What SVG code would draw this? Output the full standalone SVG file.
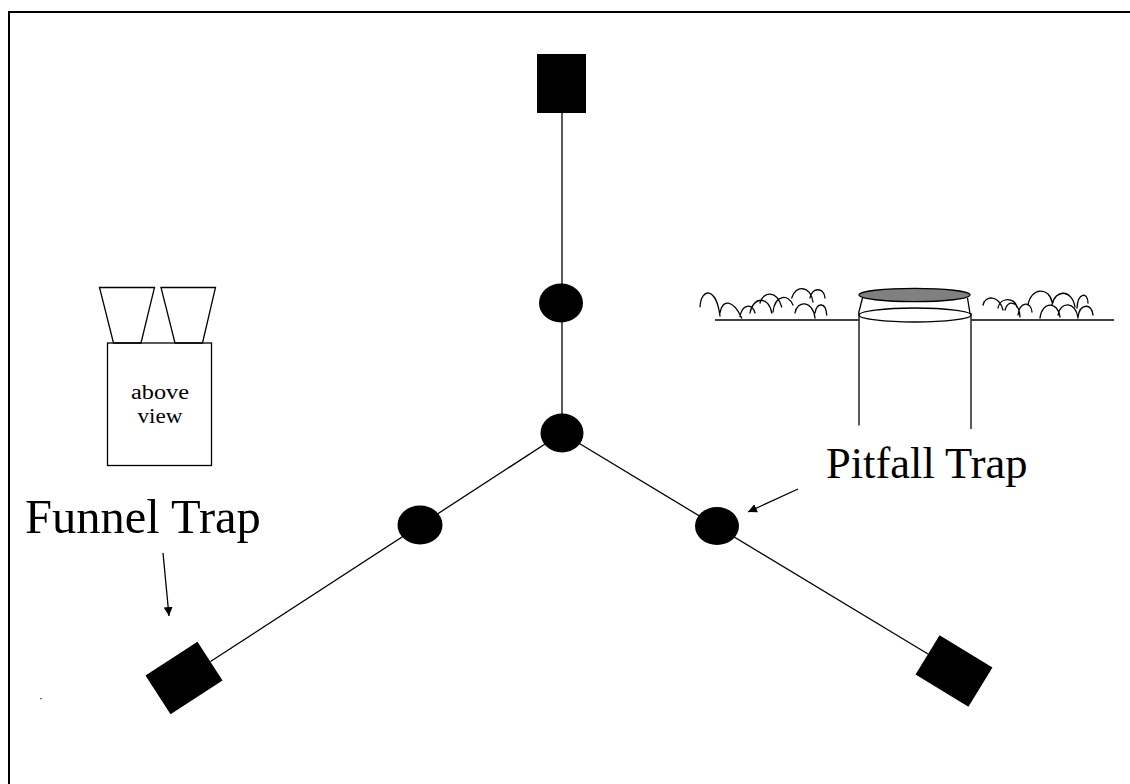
<svg xmlns="http://www.w3.org/2000/svg" width="1130" height="784" viewBox="0 0 1130 784">
  <defs>
    <style>
      .frame { fill: none; stroke: #000; stroke-width: 2; }
      .link { stroke: #000; stroke-width: 1.3; fill: none; }
      .trap { fill: #000; }
      .thin { fill: none; stroke: #000; stroke-width: 1.3; }
      .grass { fill: none; stroke: #000; stroke-width: 1.3; stroke-linecap: round; }
      .label { font-family: "Liberation Serif", "Times New Roman", serif; fill: #000; }
    </style>
    <marker id="arrowhead" viewBox="0 0 10 10" refX="10" refY="5" markerWidth="9" markerHeight="9" markerUnits="userSpaceOnUse" orient="auto">
      <path d="M0,0 L10,5 L0,10 Z" fill="#000"/>
    </marker>
  </defs>

  <rect width="1130" height="784" fill="#fff"/>
  <rect class="frame" x="9" y="12" width="1140" height="800"/>

  <!-- transect lines from the central hub -->
  <g id="connectors">
    <line class="link" x1="562" y1="113" x2="562" y2="433"/>
    <line class="link" x1="562" y1="433" x2="210.5" y2="661.5"/>
    <line class="link" x1="562" y1="433" x2="928" y2="654"/>
    <line class="link" x1="163" y1="553" x2="169" y2="616" marker-end="url(#arrowhead)"/>
    <line class="link" x1="798" y1="489" x2="748" y2="512" marker-end="url(#arrowhead)"/>
  </g>

  <!-- funnel traps at the arm ends -->
  <g id="funnel-top"><rect class="trap" x="537" y="54" width="49" height="59"/></g>
  <g id="funnel-left"><rect class="trap" x="-31" y="-23" width="62" height="46" transform="translate(184,678) rotate(-33)"/></g>
  <g id="funnel-right"><rect class="trap" x="-31" y="-23" width="62" height="46" transform="translate(954,671) rotate(31.5)"/></g>

  <!-- pitfall traps along the arms -->
  <g id="pitfall-1"><ellipse class="trap" cx="561" cy="303" rx="22" ry="19.5"/></g>
  <g id="pitfall-hub"><ellipse class="trap" cx="562" cy="433" rx="21.5" ry="19.5"/></g>
  <g id="pitfall-left"><ellipse class="trap" cx="420" cy="525" rx="22.5" ry="19.5"/></g>
  <g id="pitfall-right"><ellipse class="trap" cx="717" cy="526" rx="22" ry="19"/></g>

  <!-- funnel trap seen from above -->
  <g id="funnel-detail">
    <polygon class="thin" points="99.5,287.5 154.5,287.5 141,343 113.5,343" fill="#fff"/>
    <polygon class="thin" points="161,287.5 215.5,287.5 202.5,343 175,343" fill="#fff"/>
    <rect class="thin" x="107.5" y="343" width="104" height="122.5" fill="#fff"/>
    <text class="label" x="160" y="399" font-size="20" text-anchor="middle" textLength="58" lengthAdjust="spacingAndGlyphs">above</text>
    <text class="label" x="160" y="423" font-size="20" text-anchor="middle" textLength="45" lengthAdjust="spacingAndGlyphs">view</text>
  </g>

  <!-- pitfall trap in cross-section -->
  <g id="pitfall-detail">
    <line class="thin" x1="715" y1="320" x2="858.5" y2="320"/>
    <line class="thin" x1="971.5" y1="320" x2="1114" y2="320"/>
    <line class="thin" x1="859" y1="313" x2="859" y2="425.5"/>
    <line class="thin" x1="971" y1="313" x2="971" y2="429"/>
    <line class="thin" x1="862.5" y1="298" x2="858.5" y2="313.5"/>
    <line class="thin" x1="967.5" y1="298" x2="970" y2="313.5"/>
    <ellipse class="thin" cx="915" cy="315" rx="56" ry="7" fill="#fff"/>
    <ellipse cx="914.5" cy="295" rx="55.5" ry="6.7" fill="#808080" stroke="#000" stroke-width="1.3"/>
    <path class="grass" d="M700,306.7 C701,288 716,286 720,316
      M720,313 C722,299 733,299 741.7,318
      M740,316.7 C742,304 752,303 755,313
      M750,313 C753,296 769,296 771.7,313
      M760,303 C763,291 777,290 781.7,307
      M773,312 C775,294 789,294 793,305
      M791.7,298 C795,285 811,285 813,302
      M810,298 C812,287 824,287 825,298
      M795,313 C797,300 813,300 815,318
      M815,313 C817,302 826,302 826.7,315"/>
    <path class="grass" d="M983,305 C985,295 999,295 1003,310
      M998,308 C1000,297 1015,297 1017,307
      M1005,310 C1007,300 1019,300 1020,317
      M1018,315 C1020,301 1031,301 1032,312
      M1028,305 C1031,287 1049,287 1052,302
      M1040,318 C1042,301 1058,301 1060,317
      M1052,305 C1055,289 1072,289 1075,307
      M1058,315 C1060,301 1076,301 1078,318
      M1077,308 C1078,292 1088,292 1088,303
      M1078,317 C1080,303 1092,303 1093,315"/>
  </g>

  <g id="labels">
    <text class="label" x="25" y="533" font-size="48.5">Funnel Trap</text>
    <text class="label" x="826" y="478" font-size="44.5">Pitfall Trap</text>
  </g>

  <rect x="40" y="698" width="2" height="1.2" fill="#666"/>
</svg>
